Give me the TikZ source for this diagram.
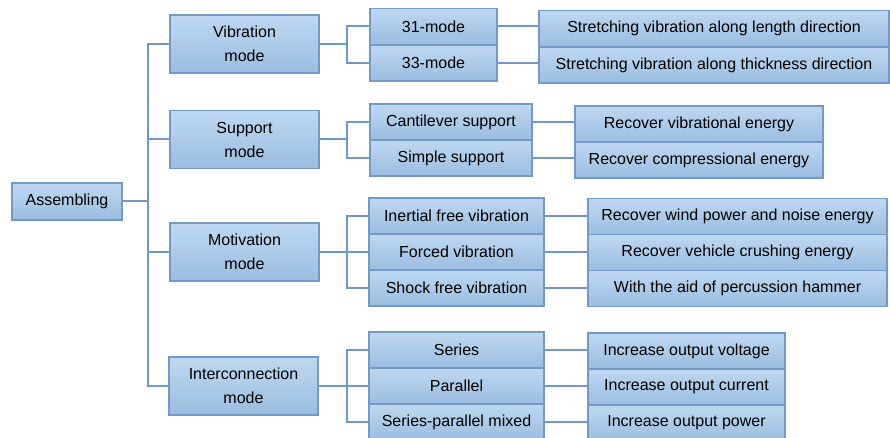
\documentclass[tikz,border=0pt]{standalone}
\usepackage{fontspec}
\setmainfont{Liberation Sans}
\usepackage{xcolor}
\usepackage{tikz}
\definecolor{boxtop}{RGB}{191,216,241}
\definecolor{boxbot}{RGB}{155,189,224}
\definecolor{boxedge}{RGB}{115,153,197}
\definecolor{linkcol}{RGB}{112,152,199}

\begin{document}
\begin{tikzpicture}[x=1pt, y=-1pt, font=\fontsize{16}{24}\selectfont,
  box/.style={draw=boxedge, line width=1.5pt, top color=boxtop, bottom color=boxbot,
    inner sep=0pt, align=center},
  mode/.style={box, minimum width=149pt, minimum height=58pt},
  sub/.style={box, minimum height=36pt},
  link/.style={draw=linkcol, line width=2pt}]
  \useasboundingbox (0,0) rectangle (890,438);
  % root and the four modes
  \node[box, minimum width=110pt, minimum height=37pt] (asm) at (67,201.5) {Assembling};
  \node[mode] (vib) at (244.5,44) {Vibration\\mode};
  \node[mode] (sup) at (244.5,139.5) {Support\\mode};
  \node[mode] (mot) at (244.5,252) {Motivation\\mode};
  \node[mode] (icn) at (243.5,386) {Interconnection\\mode};
  % second level
  \node[sub, minimum width=127pt] (m31) at (433.5,26.5) {31-mode};
  \node[sub, minimum width=127pt] (m33) at (433.5,63) {33-mode};
  \node[sub, minimum width=162pt] (cant) at (451,122) {Cantilever support};
  \node[sub, minimum width=162pt] (simp) at (451,158) {Simple support};
  \node[sub, minimum width=175pt] (inert) at (456.5,216) {Inertial free vibration};
  \node[sub, minimum width=175pt] (forced) at (456.5,252) {Forced vibration};
  \node[sub, minimum width=175pt] (shock) at (456.5,288) {Shock free vibration};
  \node[sub, minimum width=175pt] (ser) at (456.5,350) {Series};
  \node[sub, minimum width=175pt] (par) at (456.5,386) {Parallel};
  \node[sub, minimum width=175pt] (spm) at (456.5,422) {Series-parallel mixed};
  % third level
  \node[sub, minimum width=350pt] (rlen) at (714,28.5) {Stretching vibration along length direction};
  \node[sub, minimum width=350pt] (rthk) at (714,65) {Stretching vibration along thickness direction};
  \node[sub, minimum width=248pt] (rvib) at (699,124) {Recover vibrational energy};
  \node[sub, minimum width=248pt] (rcomp) at (699,160) {Recover compressional energy};
  \node[sub, minimum width=299pt] (rwind) at (737.5,216.5) {Recover wind power and noise energy};
  \node[sub, minimum width=299pt] (rveh) at (737.5,252.5) {Recover vehicle crushing energy};
  \node[sub, minimum width=299pt] (rham) at (737.5,288.5) {With the aid of percussion hammer};
  \node[sub, minimum width=197pt] (rvolt) at (686.5,351) {Increase output voltage};
  \node[sub, minimum width=197pt] (rcur) at (686.5,387) {Increase output current};
  \node[sub, minimum width=197pt] (rpow) at (686.5,423) {Increase output power};
  % trunk and branches
  \coordinate (trunk) at (148,0);
  \coordinate (br) at (347,0);
  \draw[link] (asm.east) -- (asm.east -| trunk);
  \draw[link] (vib.west) -- (vib.west -| trunk) -- (icn.west -| trunk) -- (icn.west);
  \draw[link] (sup.west) -- (sup.west -| trunk);
  \draw[link] (mot.west) -- (mot.west -| trunk);
  \draw[link] (vib.east) -- (vib.east -| br);
  \draw[link] (m31.west) -- (m31.west -| br) -- (m33.west -| br) -- (m33.west);
  \draw[link] (sup.east) -- (sup.east -| br);
  \draw[link] (cant.west) -- (cant.west -| br) -- (simp.west -| br) -- (simp.west);
  \draw[link] (mot.east) -- (forced.west);
  \draw[link] (inert.west) -- (inert.west -| br) -- (shock.west -| br) -- (shock.west);
  \draw[link] (icn.east) -- (par.west);
  \draw[link] (ser.west) -- (ser.west -| br) -- (spm.west -| br) -- (spm.west);
  % leaves
  \foreach \a/\b in {m31/rlen, m33/rthk, cant/rvib, simp/rcomp, inert/rwind,
    forced/rveh, shock/rham, ser/rvolt, par/rcur, spm/rpow}
    \draw[link] (\a.east) -- (\a.east -| \b.west);
\end{tikzpicture}
\end{document}
